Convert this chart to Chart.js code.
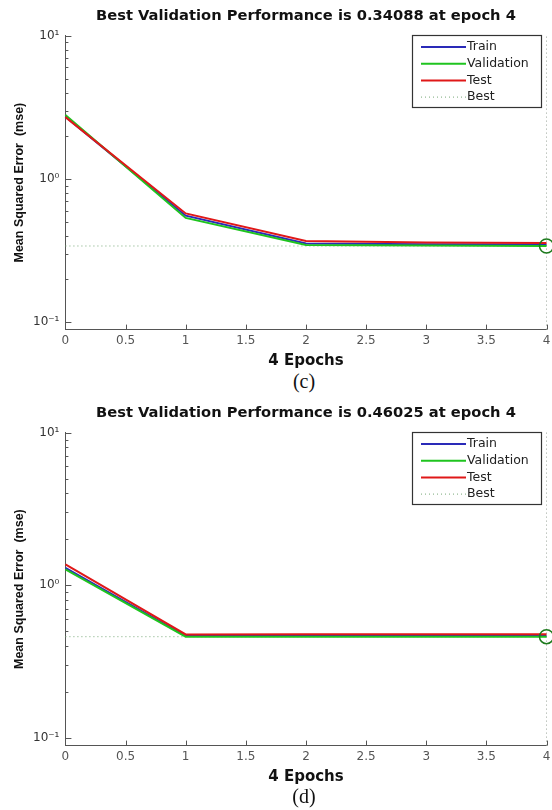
<!DOCTYPE html>
<html>
<head>
<meta charset="utf-8">
<script src="https://cdn.jsdelivr.net/npm/chart.js@4.4.1/dist/chart.umd.min.js"></script>
<style>
  body { margin: 0; background: #fff; width: 552px; height: 810px; position: relative; overflow: hidden; }
  .plot { position: absolute; left: 0; width: 555px; }
  .cap { position: absolute; left: 0; width: 608px; text-align: center; font-family: "Liberation Serif", serif; font-size: 20px; color: #111; }
</style>
</head>
<body>
<div class="plot" style="top:0"><canvas id="perfC" width="555" height="370"></canvas></div>
<div class="cap" style="top:370px">(c)</div>
<div class="plot" style="top:397px"><canvas id="perfD" width="555" height="389"></canvas></div>
<div class="cap" style="top:785px">(d)</div>
<script>
const epochs = [0, 1, 2, 3, 4];

// run (c)
const trainC = [2.72, 0.555, 0.355, 0.350, 0.349];
const validC = [2.80, 0.535, 0.346, 0.343, 0.34088];
const testC = [2.70, 0.575, 0.370, 0.360, 0.358];
const bestC = { epoch: 4, value: 0.34088 };

// run (d)
const trainD = [1.30, 0.466, 0.466, 0.466, 0.466];
const validD = [1.27, 0.4605, 0.4603, 0.4603, 0.46025];
const testD = [1.37, 0.476, 0.478, 0.478, 0.478];
const bestD = { epoch: 4, value: 0.46025 };

const xTicks = [0, 0.5, 1, 1.5, 2, 2.5, 3, 3.5, 4];
const yMin = 0.089, yMax = 10;
const supLabels = { '-1': '10\u207B\u00B9', '0': '10\u2070', '1': '10\u00B9' };

const SANS = '"Liberation Sans", Arial, sans-serif';
const WIDE = '"DejaVu Sans", sans-serif';
const bestColor = '#78a878';

function pts(arr) {
    return epochs.map((e, i) => ({ x: e, y: arr[i] }));
}

// matlab style ticks pointing into the plot
const innerTicks = {
    id: 'innerTicks',
    afterDraw(chart) {
        const c = chart.ctx, a = chart.chartArea;
        const xs = chart.scales.x, ys = chart.scales.y;
        c.save();
        c.strokeStyle = '#555';
        c.lineWidth = 1;
        c.beginPath();
        xTicks.forEach(t => {
            const px = Math.round(xs.getPixelForValue(t)) + 0.5;
            c.moveTo(px, a.bottom);
            c.lineTo(px, a.bottom - 5);
        });
        for (let d = -1; d <= 1; d++) {
            for (let m = 1; m <= 9; m++) {
                const v = m * Math.pow(10, d);
                if (v < yMin || v > yMax) continue;
                const py = Math.round(ys.getPixelForValue(v)) + 0.5;
                c.moveTo(a.left, py);
                c.lineTo(a.left + (m === 1 ? 6 : 3), py);
            }
        }
        c.stroke();
        c.restore();
    }
};

// boxed legend in the top right corner of the axes
const boxLegend = {
    id: 'boxLegend',
    afterDraw(chart) {
        const c = chart.ctx, a = chart.chartArea;
        const w = 129, h = 72;
        const left = Math.round(a.right - 6 - w), top = Math.round(a.top - 1);
        c.save();
        c.fillStyle = '#fff';
        c.fillRect(left, top, w, h);
        c.strokeStyle = '#333';
        c.lineWidth = 1.2;
        c.strokeRect(left + 0.5, top + 0.5, w, h);
        c.font = '12.5px ' + WIDE;
        c.textBaseline = 'middle';
        const items = chart.data.datasets.filter(ds => ds.legend);
        items.forEach((ds, i) => {
            const y = top + 12 + i * 16.7;
            c.beginPath();
            c.strokeStyle = ds.borderColor;
            c.lineWidth = ds.borderDash ? 1 : 2;
            c.setLineDash(ds.borderDash || []);
            c.moveTo(left + 9, y);
            c.lineTo(left + 54, y);
            c.stroke();
            c.setLineDash([]);
            c.fillStyle = '#222';
            c.fillText(ds.label, left + 55, y);
        });
        c.restore();
    }
};

function perfChart(id, title, train, valid, test, best) {
    return new Chart(document.getElementById(id), {
        type: 'line',
        data: {
            datasets: [
                { label: 'Train', legend: true, data: pts(train), borderColor: '#2a2ab8', borderWidth: 2, pointRadius: 0, order: 3 },
                { label: 'Validation', legend: true, data: pts(valid), borderColor: '#1fc41f', borderWidth: 2, pointRadius: 0, order: 2 },
                { label: 'Test', legend: true, data: pts(test), borderColor: '#e01818', borderWidth: 2, pointRadius: 0, order: 1 },
                { label: 'Best', legend: true, data: [{ x: 0, y: best.value }, { x: best.epoch, y: best.value }],
                  borderColor: bestColor, borderWidth: 1, borderDash: [1, 3], pointRadius: 0, order: 4 },
                { label: 'bestEpoch', data: [{ x: best.epoch, y: yMin }, { x: best.epoch, y: yMax }],
                  borderColor: '#9aa49a', borderWidth: 1, borderDash: [1, 3], pointRadius: 0, order: 5 },
                { label: 'bestPoint', data: [{ x: best.epoch, y: best.value }], showLine: false,
                  pointRadius: 7, pointBorderWidth: 1.5, pointBorderColor: '#1d7a1d',
                  pointBackgroundColor: 'rgba(0,0,0,0)', borderColor: '#1d7a1d', order: 0 }
            ]
        },
        options: {
            responsive: false,
            animation: false,
            clip: false,
            layout: { padding: { left: 12, right: 5, top: 2, bottom: 0 } },
            plugins: {
                legend: { display: false },
                tooltip: { enabled: false },
                title: {
                    display: true, text: title, color: '#111', fullSize: false,
                    font: { family: WIDE, size: 14.7, weight: 'bold' },
                    padding: { top: 5, bottom: 11 }
                }
            },
            scales: {
                x: {
                    type: 'linear', min: 0, max: 4,
                    afterBuildTicks: s => { s.ticks = xTicks.map(v => ({ value: v })); },
                    ticks: { color: '#555', font: { family: WIDE, size: 12 }, padding: 4, maxRotation: 0, autoSkip: false,
                             callback: v => String(v) },
                    grid: { display: false, drawTicks: false },
                    border: { display: true, color: '#555', width: 1 },
                    title: { display: true, text: '4 Epochs', color: '#111', font: { family: WIDE, size: 15, weight: 'bold' }, padding: { top: 0, bottom: 0 } }
                },
                y: {
                    type: 'logarithmic', min: yMin, max: yMax,
                    afterBuildTicks: s => { s.ticks = [-1, 0, 1].map(d => ({ value: Math.pow(10, d) })); },
                    ticks: {
                        color: '#333', font: { family: WIDE, size: 12 }, padding: 6, autoSkip: false,
                        callback: v => supLabels[String(Math.round(Math.log10(v)))]
                    },
                    grid: { display: false, drawTicks: false },
                    border: { display: true, color: '#555', width: 1 },
                    title: { display: true, text: 'Mean Squared Error  (mse)', color: '#111', font: { family: SANS, size: 12.5, weight: 'bold' }, padding: { top: 0, bottom: 0 } }
                }
            }
        },
        plugins: [innerTicks, boxLegend]
    });
}

perfChart('perfC', 'Best Validation Performance is 0.34088 at epoch 4', trainC, validC, testC, bestC);
perfChart('perfD', 'Best Validation Performance is 0.46025 at epoch 4', trainD, validD, testD, bestD);
</script>
</body>
</html>
